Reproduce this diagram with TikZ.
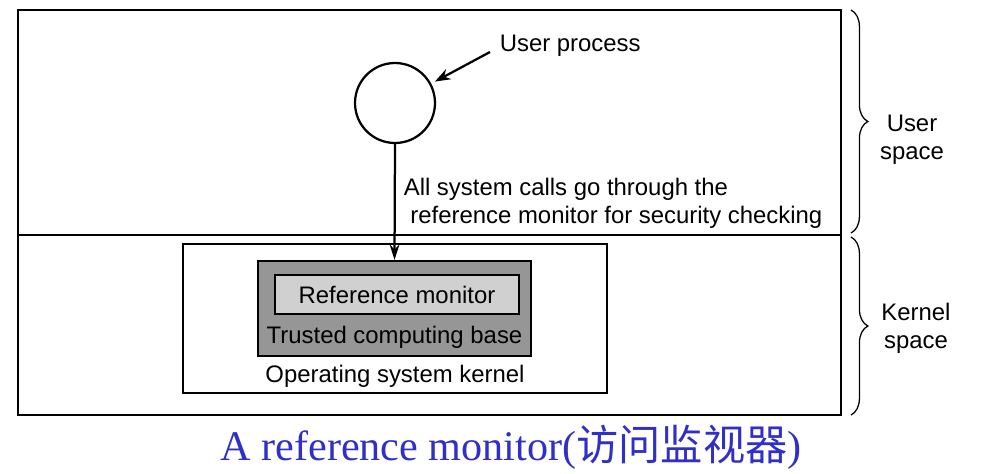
\documentclass[tikz,border=0pt]{standalone}
\usepackage{fontspec}
\setmainfont{Liberation Sans}
\newfontfamily\capfont{Liberation Serif}
\newfontfamily\cjk{Noto Sans CJK SC}
\usepackage{tikz}
\usetikzlibrary{decorations.pathreplacing, arrows.meta}

\definecolor{tcbgray}{RGB}{150,150,150}
\definecolor{rmgray}{RGB}{208,208,208}
\definecolor{capblue}{RGB}{48,48,200}

\begin{document}
\begin{tikzpicture}[x=0.025cm, y=-0.025cm, line width=1.6pt,
  every node/.style={font=\fontsize{17}{20}\selectfont},
  box/.style={draw, rectangle, inner sep=0pt},
  brc/.style={decorate, decoration={brace, amplitude=12pt}, line width=0.9pt}]

  \useasboundingbox (0,0) rectangle (985,473);

  % outer frame and user/kernel split
  \draw (18,10) rectangle (841,415);
  \draw (18,235) -- (841,235);

  % kernel part
  \node[box, minimum width=424*0.025cm, minimum height=149*0.025cm] (kern) at (395,318.5) {};
  \node[box, fill=tcbgray, minimum width=273*0.025cm, minimum height=95*0.025cm] (tcb) at (394.5,308.5) {};
  \node[box, fill=rmgray, minimum width=244*0.025cm, minimum height=39*0.025cm] (refmon) at (397,294.5) {Reference monitor};
  \node (tcblbl) at (394.5,337) {Trusted computing base};
  \node (kernlbl) at (395,376) {Operating system kernel};

  % user process
  \node[draw, circle, minimum size=80*0.025cm] (proc) at (395,103) {};
  \node[anchor=west] (uplbl) at (494,46) {User process};
  \coordinate (upstart) at (490,52);
  \draw[-{Stealth[length=11pt, width=8pt]}, shorten >=3pt] (upstart) -- (proc);

  \draw[-{Stealth[length=11pt, width=7pt]}] (proc.south) -- (tcb.north);
  \node[anchor=west, align=left] (calls) at (398,203) {All system calls go through the\\\ reference monitor for security checking};

  % braces
  \draw[brc] (851,10) -- (851,233);
  \draw[brc] (851,237) -- (851,415);
  \node[align=center] (usp) at (912,140) {User\\space};
  \node[align=center] (ksp) at (916,328) {Kernel\\space};

  \node[text=capblue, font=\capfont\fontsize{30}{34}\selectfont] (cap) at (511,447) {A reference monitor({\cjk 访问监视器})};
\end{tikzpicture}
\end{document}
